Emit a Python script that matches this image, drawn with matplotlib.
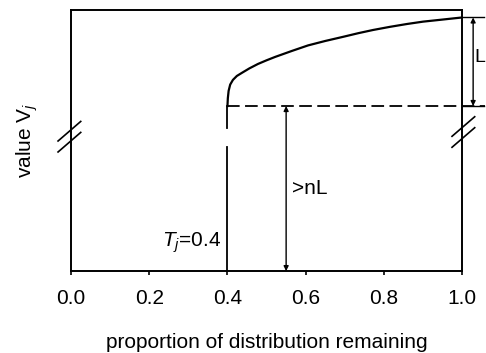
import numpy as np
import matplotlib.pyplot as plt
import matplotlib.transforms as mtransforms

plt.rcParams['font.family'] = 'Liberation Sans'
plt.rcParams['mathtext.fontset'] = 'custom'
plt.rcParams['mathtext.rm'] = 'Liberation Sans'
plt.rcParams['mathtext.it'] = 'Liberation Sans:italic'

# curve
prop = [0.400, 0.401, 0.403, 0.407, 0.414, 0.424, 0.437, 0.456, 0.478, 0.500,
        0.522, 0.565, 0.606, 0.650, 0.696, 0.735, 0.772, 0.815, 0.859, 0.900,
        0.944, 0.975, 1.000]
value = [0.632, 0.662, 0.690, 0.714, 0.732, 0.747, 0.759, 0.776, 0.793, 0.807,
         0.820, 0.843, 0.864, 0.881, 0.897, 0.911, 0.923, 0.935, 0.946, 0.955,
         0.962, 0.967, 0.971]
T_j = 0.4
level = 0.632
top = 0.971
gap = (0.475, 0.548)
xticks = [0.0, 0.2, 0.4, 0.6, 0.8, 1.0]

fig = plt.figure(figsize=(4.86, 3.53), dpi=100)
ax = fig.add_axes([0.146, 0.232, 0.805, 0.740])

ax.plot(prop, value, 'k', lw=1.6)
ax.plot([T_j, T_j], [0, gap[0]], 'k', lw=1.3)
ax.plot([T_j, T_j], [gap[1], level], 'k', lw=1.3)
ax.plot([T_j, 1.059], [level, level], 'k', lw=1.3, dashes=(7, 3), clip_on=False)

# L bracket on the right
ax.plot([1.0, 1.056], [top, top], 'k', lw=1.0, clip_on=False)
ax.plot([1.0, 1.056], [level, level], 'k', lw=1.0, clip_on=False)
ax.annotate('', xy=(1.028, top), xytext=(1.028, level),
            arrowprops=dict(arrowstyle='<|-|>', color='k', lw=1.0,
                            mutation_scale=7, shrinkA=0, shrinkB=0),
            annotation_clip=False)
trans = mtransforms.blended_transform_factory(fig.transFigure, ax.transData)
ax.text(0.999, 0.816, 'L', fontsize=14, va='center', ha='right',
        transform=trans, clip_on=False)

# >nL arrow
ax.annotate('', xy=(0.55, level), xytext=(0.55, 0),
            arrowprops=dict(arrowstyle='<|-|>', color='k', lw=1.0,
                            mutation_scale=7, shrinkA=0, shrinkB=0))
ax.text(0.565, 0.318, '>nL', fontsize=15, va='center', ha='left')

ax.text(0.383, 0.107, '$T_j$=0.4', fontsize=15, va='center', ha='right')

# axis break marks
for x0, y0 in [(-0.033, 0.498), (-0.033, 0.456), (0.974, 0.516), (0.974, 0.474)]:
    ax.plot([x0, x0 + 0.058], [y0, y0 + 0.075], 'k', lw=1.2, clip_on=False)

ax.set_xlim(0, 1)
ax.set_ylim(0, 1)
ax.set_xticks(xticks)
ax.set_xticklabels(['%.1f' % t for t in xticks])
ax.set_yticks([])
ax.tick_params(axis='x', direction='out', length=3, width=1.2, labelsize=15, pad=10)
for s in ax.spines.values():
    s.set_linewidth(1.4)
ax.set_xlabel('proportion of distribution remaining', fontsize=15, labelpad=18)
ax.set_ylabel('value V$_j$', fontsize=15, labelpad=22)

fig.savefig('out.png', dpi=100)
